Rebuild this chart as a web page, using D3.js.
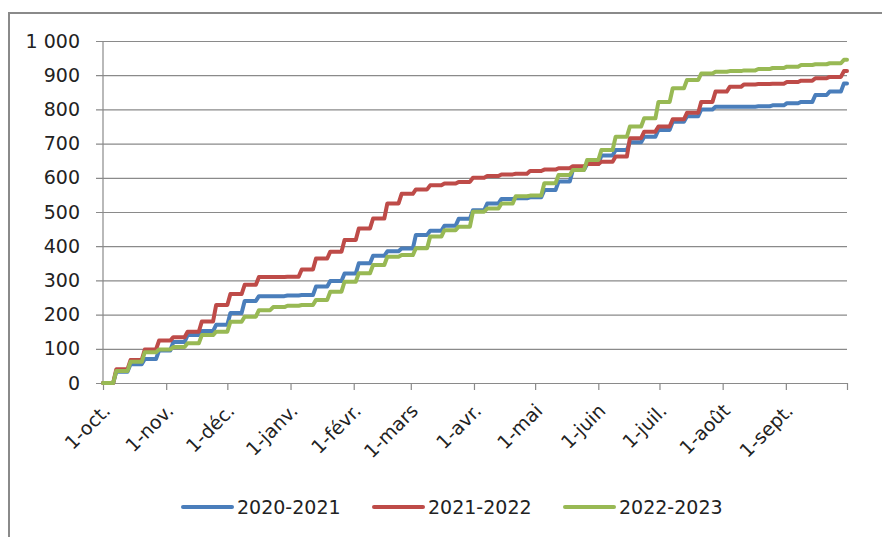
<!DOCTYPE html>
<html>
<head>
<meta charset="utf-8">
<script src="https://cdn.jsdelivr.net/npm/d3@7"></script>
<style>
  body { margin: 0; background: #fff; }
  text { font-family: "DejaVu Sans", sans-serif; fill: #222; }
</style>
</head>
<body>
<div id="chart"></div>
<script>
// jours depuis le 1er octobre (relevés hebdomadaires)
const stepDays = [0, 5, 12, 19, 26, 33, 40, 47, 54, 61, 68, 75, 82, 89, 96, 103, 110, 117, 124, 131, 138,
  145, 152, 159, 166, 173, 180, 187, 194, 201, 208, 215, 222, 229, 236, 243, 250, 257, 264, 271, 278,
  285, 292, 299, 306, 313, 320, 327, 334, 341, 348, 355, 362]

const serie2021 = [0, 33, 55, 70, 95, 120, 140, 152, 170, 205, 240, 254, 254, 256, 257, 282, 298, 320, 350, 372, 385,
  393, 433, 445, 460, 480, 505, 525, 538, 540, 543, 564, 589, 623, 640, 665, 681, 704, 720, 740, 764,
  780, 800, 808, 808, 808, 809, 812, 818, 822, 842, 852, 876]
const serie2022 = [0, 40, 67, 98, 124, 134, 150, 180, 228, 260, 287, 310, 310, 311, 332, 364, 384, 418, 452, 481, 525,
  553, 566, 578, 583, 588, 600, 605, 610, 612, 620, 624, 628, 634, 640, 647, 662, 716, 735, 750, 771,
  790, 822, 852, 866, 873, 874, 875, 880, 884, 891, 895, 912]
const serie2023 = [0, 35, 62, 90, 98, 105, 116, 140, 150, 179, 194, 213, 222, 226, 228, 243, 267, 296, 321, 345, 369,
  374, 394, 428, 447, 457, 501, 510, 525, 546, 548, 584, 608, 623, 652, 681, 720, 750, 774, 822, 862,
  886, 905, 910, 912, 914, 918, 921, 925, 930, 932, 935, 945]

const seriesNames = ["2020-2021", "2021-2022", "2022-2023"]
const seriesColors = ["#4a7ebb", "#be4b48", "#98b954"]
const monthLabels = ["1-oct.", "1-nov.", "1-déc.", "1-janv.", "1-févr.", "1-mars", "1-avr.", "1-mai", "1-juin", "1-juil.", "1-août", "1-sept."]
const yTicks = [0, 100, 200, 300, 400, 500, 600, 700, 800, 900, 1000]

const width = 882
const height = 537
const plotLeft = 103, plotRight = 847, plotTop = 41, plotBottom = 383

const svg = d3.select("#chart").append("svg")
  .attr("width", width)
  .attr("height", height)

// cadre du graphique (coupé à droite et en bas)
svg.append("rect")
  .attr("x", 9).attr("y", 13)
  .attr("width", 900).attr("height", 560)
  .attr("fill", "none")
  .attr("stroke", "#8a8a8a")
  .attr("stroke-width", 2)

const seasonStart = new Date(2022, 9, 1)
const seasonEnd = new Date(2023, 9, 1)
const dayToDate = d => new Date(seasonStart.getTime() + d * 864e5)

const x = d3.scaleTime().domain([seasonStart, seasonEnd]).range([plotLeft, plotRight])
const y = d3.scaleLinear().domain([0, 1000]).range([plotBottom, plotTop])

const fmt = d3.formatLocale({ decimal: ",", thousands: " ", grouping: [3], currency: ["", " €"] }).format(",d")

// axe Y + grille
const yAxis = svg.append("g")
  .attr("transform", `translate(${plotRight},0)`)
  .call(d3.axisLeft(y).tickValues(yTicks).tickFormat(fmt)
    .tickSize(plotRight - plotLeft + 7).tickPadding(16))
yAxis.select(".domain").remove()
yAxis.selectAll("line").attr("stroke", "#8a8a8a").attr("stroke-width", 1.2)
yAxis.selectAll("text").attr("font-size", "19px").attr("fill", "#222")

svg.append("line")
  .attr("x1", plotLeft).attr("x2", plotLeft)
  .attr("y1", plotTop).attr("y2", plotBottom)
  .attr("stroke", "#8a8a8a").attr("stroke-width", 1.2)

// axe X
const monthTicks = d3.timeMonth.range(seasonStart, seasonEnd).concat([seasonEnd])
const xAxis = svg.append("g")
  .attr("transform", `translate(0,${plotBottom})`)
  .call(d3.axisBottom(x).tickValues(monthTicks)
    .tickFormat((d, i) => monthLabels[i] || "")
    .tickSize(7).tickSizeOuter(0))
xAxis.select(".domain").remove()
xAxis.selectAll("line").attr("stroke", "#8a8a8a").attr("stroke-width", 1.2)
xAxis.selectAll("text")
  .attr("font-size", "19px")
  .attr("fill", "#222")
  .attr("text-anchor", "end")
  .attr("x", 0).attr("y", 0).attr("dy", 0)
  .attr("transform", "translate(8,29) rotate(-45)")

// courbes : palier hebdomadaire, montée sur ~1,5 jour
const allSeries = [serie2021, serie2022, serie2023]
const rise = 1.5
const line = d3.line()
  .x(d => x(dayToDate(d.day)))
  .y(d => y(d.value))

allSeries.forEach(function (values, i) {
  const pts = [{ day: 0, value: values[0] }]
  for (let j = 1; j < stepDays.length; j++) {
    pts.push({ day: stepDays[j], value: values[j - 1] })
    pts.push({ day: stepDays[j] + rise, value: values[j] })
  }
  pts.push({ day: 365, value: values[values.length - 1] })
  svg.append("path")
    .datum(pts)
    .attr("d", line)
    .attr("fill", "none")
    .attr("stroke", seriesColors[i])
    .attr("stroke-width", 4)
    .attr("stroke-linejoin", "round")
    .attr("stroke-linecap", "round")
})

// légende
const legend = svg.append("g")
  .attr("transform", "translate(183,507)")
const item = legend.selectAll("g")
  .data(seriesNames)
  .enter()
  .append("g")
  .attr("transform", (d, i) => `translate(${i * 191},0)`)
item.append("line")
  .attr("x1", 0).attr("x2", 49)
  .attr("stroke", (d, i) => seriesColors[i])
  .attr("stroke-width", 4)
  .attr("stroke-linecap", "round")
item.append("text")
  .attr("x", 54)
  .attr("dy", "0.36em")
  .attr("font-size", "19px")
  .text(d => d)
</script>
</body>
</html>
